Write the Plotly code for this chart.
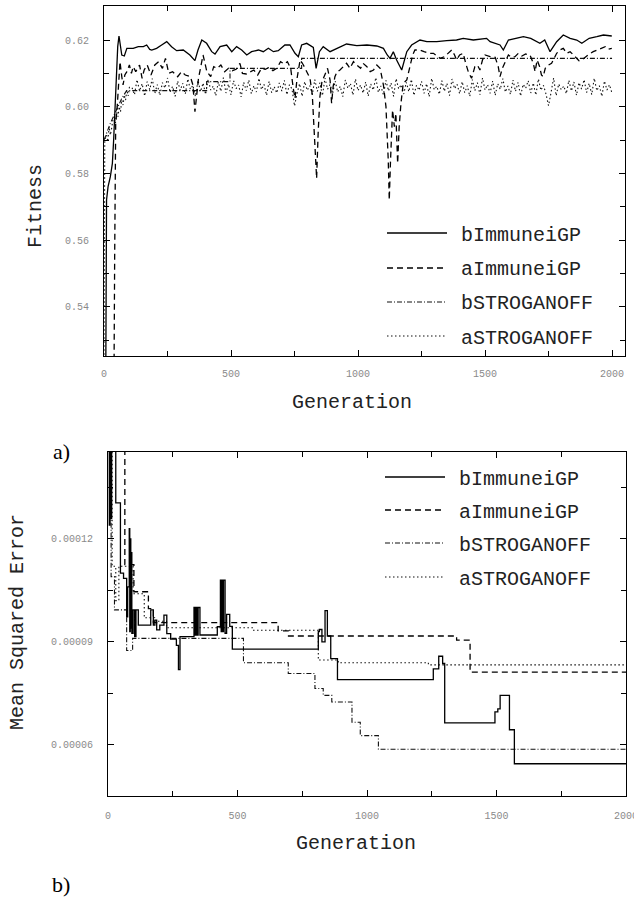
import plotly.graph_objects as go

W, H = 634, 906

# ---------------- Panel a) : Fitness vs Generation ----------------
fit_bimmune = [
    (0, 0.500), (7, 0.520), (10, 0.572), (16, 0.576), (25, 0.579), (33, 0.583), (38, 0.590),
    (44, 0.600), (50, 0.612), (54, 0.618), (59, 0.6212), (64, 0.6185), (70, 0.6155), (80, 0.6152),
    (90, 0.6175), (96, 0.6175), (115, 0.6175), (135, 0.6180), (155, 0.6180), (168, 0.6185),
    (180, 0.6172), (188, 0.6170), (207, 0.6175), (227, 0.6185), (247, 0.6195), (266, 0.6180),
    (286, 0.6168), (312, 0.6170), (338, 0.6155), (358, 0.6138), (370, 0.6170), (385, 0.6200),
    (404, 0.6190), (424, 0.6165), (437, 0.6158), (457, 0.6180), (483, 0.6185), (503, 0.6165),
    (522, 0.6180), (542, 0.6170), (562, 0.6155), (581, 0.6165), (608, 0.6170), (627, 0.6165),
    (647, 0.6175), (667, 0.6165), (686, 0.6168), (712, 0.6185), (732, 0.6185), (752, 0.6160),
    (765, 0.6150), (778, 0.6185), (798, 0.6190), (824, 0.6178), (835, 0.6115), (848, 0.6165),
    (863, 0.6180), (890, 0.6165), (916, 0.6175), (955, 0.6188), (995, 0.6183), (1035, 0.6185),
    (1074, 0.6182), (1100, 0.6175), (1115, 0.6155), (1126, 0.6145), (1139, 0.6165),
    (1152, 0.6140), (1172, 0.6110), (1192, 0.6165), (1211, 0.6185), (1244, 0.6200),
    (1271, 0.6195), (1310, 0.6195), (1349, 0.6198), (1388, 0.6200), (1414, 0.6205),
    (1454, 0.6200), (1506, 0.6205), (1520, 0.6195), (1559, 0.6185), (1572, 0.6170),
    (1592, 0.6200), (1625, 0.6205), (1651, 0.6210), (1680, 0.6205), (1716, 0.6190),
    (1735, 0.6200), (1756, 0.6165), (1782, 0.6195), (1808, 0.6215), (1835, 0.6205),
    (1861, 0.6200), (1881, 0.6190), (1910, 0.6205), (1940, 0.6210), (1966, 0.6215), (1999, 0.6212),
]

fit_aimmune = [
    (0, 0.500), (38, 0.500), (42, 0.555), (46, 0.595), (52, 0.600), (58, 0.610), (63, 0.6135),
    (70, 0.609), (75, 0.6065), (82, 0.6095), (90, 0.6105), (100, 0.6125), (108, 0.6100),
    (115, 0.612), (125, 0.6105), (140, 0.6125), (150, 0.6085), (158, 0.611), (170, 0.6125),
    (185, 0.6095), (200, 0.6125), (215, 0.6135), (230, 0.6115), (242, 0.6145), (255, 0.610),
    (270, 0.6105), (290, 0.609), (305, 0.6105), (320, 0.6095), (340, 0.609), (350, 0.6065),
    (358, 0.5985), (365, 0.6045), (372, 0.6085), (390, 0.6155), (405, 0.6105), (420, 0.609),
    (432, 0.612), (445, 0.6115), (460, 0.6125), (475, 0.6105), (490, 0.6115), (505, 0.6108),
    (520, 0.6112), (535, 0.613), (545, 0.610), (560, 0.6098), (575, 0.6105), (590, 0.611),
    (605, 0.6095), (620, 0.6115), (635, 0.6112), (650, 0.6118), (665, 0.6108), (680, 0.6115),
    (695, 0.6135), (710, 0.6128), (722, 0.6135), (735, 0.6115), (745, 0.6055), (752, 0.6025),
    (760, 0.6085), (772, 0.614), (785, 0.6125), (798, 0.6105), (811, 0.6085), (820, 0.6035),
    (828, 0.592), (837, 0.5785), (843, 0.592), (850, 0.603), (858, 0.6075), (870, 0.610),
    (880, 0.6115), (890, 0.6080), (896, 0.601), (902, 0.6060), (909, 0.609), (918, 0.6105),
    (929, 0.611), (942, 0.6120), (955, 0.613), (968, 0.6115), (982, 0.6135), (995, 0.6125),
    (1010, 0.6115), (1020, 0.613), (1035, 0.612), (1048, 0.6105), (1061, 0.611), (1074, 0.6125),
    (1087, 0.6115), (1100, 0.6065), (1110, 0.600), (1119, 0.584), (1123, 0.572), (1128, 0.584),
    (1136, 0.599), (1143, 0.594), (1149, 0.598), (1156, 0.583), (1162, 0.594), (1169, 0.601),
    (1178, 0.607), (1192, 0.608), (1205, 0.612), (1215, 0.6155), (1224, 0.617), (1244, 0.617),
    (1260, 0.6165), (1280, 0.6160), (1297, 0.616), (1310, 0.6152), (1323, 0.6145), (1340, 0.6150),
    (1355, 0.6160), (1369, 0.617), (1380, 0.6155), (1388, 0.614), (1400, 0.6155), (1414, 0.616),
    (1424, 0.6130), (1434, 0.6105), (1447, 0.6085), (1455, 0.6110), (1460, 0.612), (1470, 0.6125),
    (1480, 0.611), (1490, 0.6140), (1500, 0.6155), (1520, 0.615), (1540, 0.6148), (1552, 0.6120),
    (1559, 0.609), (1568, 0.6115), (1580, 0.6135), (1592, 0.6155), (1605, 0.6148), (1618, 0.6150),
    (1631, 0.616), (1645, 0.6152), (1660, 0.6158), (1677, 0.6155), (1690, 0.6130), (1697, 0.6105),
    (1705, 0.6140), (1715, 0.6120), (1722, 0.6095), (1729, 0.609), (1737, 0.6115), (1750, 0.6125),
    (1762, 0.613), (1782, 0.616), (1795, 0.6170), (1808, 0.6175), (1822, 0.6160), (1835, 0.6165),
    (1848, 0.6155), (1860, 0.6145), (1870, 0.6138), (1881, 0.614), (1895, 0.6150), (1910, 0.6158),
    (1926, 0.6165), (1940, 0.6170), (1953, 0.6175), (1965, 0.6178), (1973, 0.618), (1985, 0.6172),
    (1999, 0.6175),
]

fit_bstrog = [
    (0, 0.590), (12, 0.5925), (25, 0.595), (40, 0.5975), (55, 0.600), (70, 0.6025), (89, 0.6048),
    (404, 0.6048), (404, 0.6075), (496, 0.6075), (496, 0.6115), (778, 0.6115), (778, 0.6145),
    (2000, 0.6145),
]

fit_astrog_early = [
    (0, 0.522), (3, 0.590), (10, 0.5915), (15, 0.5895), (20, 0.594), (25, 0.5915), (30, 0.5935),
    (35, 0.5960), (40, 0.597), (45, 0.5950), (50, 0.5985), (55, 0.5970), (60, 0.600), (65, 0.5985),
    (70, 0.602), (75, 0.6005), (80, 0.6035), (85, 0.6020), (90, 0.6050), (95, 0.6032), (100, 0.6058),
]
fit_astrog_gen_start = 110
fit_astrog_gen_step = 10
fit_astrog_vals = [
    0.6058, 0.6036, 0.6081, 0.6047, 0.6069, 0.6032, 0.6075, 0.6051, 0.6084, 0.6040,
    0.6066, 0.6034, 0.6072, 0.6056, 0.6086, 0.6043, 0.6061, 0.6031, 0.6077, 0.6049,
    0.6070, 0.6038, 0.6083, 0.6052, 0.6064, 0.6030, 0.6079, 0.6045, 0.6071, 0.6037,
    0.6082, 0.6050, 0.6062, 0.6033, 0.6074, 0.6046, 0.6087, 0.6041, 0.6068, 0.6035,
    0.6078, 0.6054, 0.6065, 0.6029, 0.6073, 0.6048, 0.6080, 0.6039, 0.6063, 0.6044,
    0.6085, 0.6051, 0.6067, 0.6034, 0.6076, 0.6042, 0.6060, 0.6041, 0.6071, 0.6047,
    0.6079, 0.6036, 0.6066, 0.6053, 0.6002, 0.6040, 0.6069, 0.6031, 0.6075, 0.6049,
    0.6063, 0.6037, 0.6081, 0.6046, 0.6072, 0.6033, 0.6086, 0.6052, 0.6067, 0.6039,
    0.6077, 0.6044, 0.6061, 0.6030, 0.6080, 0.6055, 0.6070, 0.6035, 0.6083, 0.6048,
    0.6065, 0.6041, 0.6074, 0.6032, 0.6068, 0.6050, 0.6087, 0.6043, 0.6062, 0.6036,
    0.6079, 0.6047, 0.6071, 0.6031, 0.6084, 0.6053, 0.6066, 0.6038, 0.6073, 0.6045,
    0.6082, 0.6034, 0.6064, 0.6049, 0.6076, 0.6040, 0.6069, 0.6030, 0.6085, 0.6051,
    0.6061, 0.6037, 0.6078, 0.6046, 0.6070, 0.6033, 0.6083, 0.6054, 0.6067, 0.6039,
    0.6075, 0.6042, 0.6063, 0.6031, 0.6081, 0.6048, 0.6072, 0.6036, 0.6086, 0.6050,
    0.6066, 0.6040, 0.6077, 0.6034, 0.6069, 0.6052, 0.6084, 0.6044, 0.6062, 0.6037,
    0.6080, 0.6046, 0.6073, 0.6032, 0.6067, 0.6055, 0.6078, 0.6041, 0.6071, 0.6035,
    0.6083, 0.6049, 0.6064, 0.6038, 0.6003, 0.6043, 0.6086, 0.6033, 0.6068, 0.6051,
    0.6062, 0.6039, 0.6079, 0.6047, 0.6074, 0.6034, 0.6072, 0.6053, 0.6081, 0.6042,
    0.6070, 0.6036, 0.6085, 0.6048, 0.6063, 0.6031, 0.6077, 0.6050, 0.6066, 0.6040,
]

fit_yticks = [0.54, 0.56, 0.58, 0.60, 0.62]
fit_ytick_labels = ["0.54", "0.56", "0.58", "0.60", "0.62"]
gen_ticks = [0, 500, 1000, 1500, 2000]
gen_tick_labels = ["0", "500", "1000", "1500", "2000"]

# ---------------- Panel b) : Mean Squared Error (x 1e-5), step change points ----------------
mse_scale = 1e-5
mse_bimmune_x1e5 = [
    (0, 15), (5, 12.4), (8, 15), (11, 12.6), (14, 15), (30, 13.05), (48, 11.0), (60, 10.85),
    (72, 9.73), (76, 10.6), (82, 12.3), (84, 9.3), (86, 12.0), (88, 9.4), (90, 11.6), (92, 9.25),
    (97, 9.93), (103, 9.15), (108, 9.93), (117, 9.49), (165, 9.93), (175, 9.49), (181, 9.63),
    (188, 9.35), (200, 9.49), (216, 9.78), (227, 9.24), (242, 9.08), (264, 8.9), (272, 8.19),
    (278, 9.15), (332, 10.0), (336, 9.2), (340, 10.0), (344, 9.2), (348, 10.0), (355, 9.2),
    (422, 9.44), (434, 10.8), (437, 9.3), (440, 10.8), (443, 9.3), (446, 10.8), (452, 9.25),
    (458, 9.8), (470, 9.45), (480, 8.79), (812, 9.3), (816, 9.36), (826, 9.0), (838, 9.91),
    (847, 9.17), (860, 8.51), (886, 7.9), (1256, 8.21), (1277, 8.58), (1292, 8.37), (1300, 6.64),
    (1494, 6.96), (1505, 7.05), (1514, 7.44), (1550, 6.44), (1569, 5.45), (2000, 5.45),
]
mse_aimmune_x1e5 = [
    (0, 15), (65, 11.25), (100, 10.46), (156, 9.97), (175, 9.56), (657, 9.32), (697, 9.17),
    (1346, 9.05), (1398, 8.12), (2000, 8.12),
]
mse_bstrog_x1e5 = [
    (0, 15), (12, 10.9), (25, 9.93), (72, 8.75), (95, 9.10), (523, 8.39), (696, 8.08),
    (799, 7.64), (831, 7.44), (864, 7.25), (942, 6.66), (974, 6.27), (1044, 5.87), (2000, 5.87),
]
mse_astrog_x1e5 = [
    (0, 15), (16, 11.2), (30, 10.2), (42, 11.2), (97, 10.4), (140, 9.7), (180, 9.6), (226, 9.41),
    (562, 9.34), (812, 8.47), (889, 8.39), (1237, 8.33), (2000, 8.33),
]
mse_yticks = [0.00006, 0.00009, 0.00012]
mse_ytick_labels = ["0.00006", "0.00009", "0.00012"]

series_names = ["bImmuneiGP", "aImmuneiGP", "bSTROGANOFF", "aSTROGANOFF"]

# ---------------- styling ----------------
styles = {
    "bImmuneiGP": dict(color="#000000", width=1.3, dash="solid"),
    "aImmuneiGP": dict(color="#000000", width=1.3, dash="6px,4px"),
    "bSTROGANOFF": dict(color="#111111", width=1.1, dash="5px,2px,1px,2px"),
    "aSTROGANOFF": dict(color="#111111", width=1.1, dash="1.5px,2.5px"),
}
MONO = "Liberation Mono"
tick_font = dict(family=MONO, size=10, color="#8a8a8a")


def split(pairs):
    return [p[0] for p in pairs], [p[1] for p in pairs]


fig = go.Figure()

# Panel a traces
astrog_x = [g for g, _ in fit_astrog_early] + [fit_astrog_gen_start + fit_astrog_gen_step * i for i in range(len(fit_astrog_vals))]
astrog_y = [v for _, v in fit_astrog_early] + fit_astrog_vals
panel_a = {
    "bImmuneiGP": split(fit_bimmune),
    "aImmuneiGP": split(fit_aimmune),
    "bSTROGANOFF": split(fit_bstrog),
    "aSTROGANOFF": (astrog_x, astrog_y),
}
for name in ["aSTROGANOFF", "bSTROGANOFF", "aImmuneiGP", "bImmuneiGP"]:
    xs, ys = panel_a[name]
    fig.add_trace(go.Scatter(x=xs, y=ys, mode="lines", name=name, line=styles[name],
                             xaxis="x", yaxis="y", showlegend=False))

# Panel b traces
panel_b = {
    "bImmuneiGP": mse_bimmune_x1e5,
    "aImmuneiGP": mse_aimmune_x1e5,
    "bSTROGANOFF": mse_bstrog_x1e5,
    "aSTROGANOFF": mse_astrog_x1e5,
}
for name in ["aSTROGANOFF", "bSTROGANOFF", "aImmuneiGP", "bImmuneiGP"]:
    xs, ys = split(panel_b[name])
    fig.add_trace(go.Scatter(x=xs, y=[v * mse_scale for v in ys], mode="lines", name=name,
                             line=dict(**styles[name], shape="hv"),
                             xaxis="x2", yaxis="y2", showlegend=False))


def px2x(p):
    return p / W


def px2y(p):
    return 1 - p / H


axis_common = dict(
    showline=True, linecolor="#000000", linewidth=1.2, mirror="ticks",
    ticks="inside", ticklen=6, tickcolor="#000000", tickwidth=1,
    showgrid=False, zeroline=False, tickfont=tick_font, automargin=False,
    ticklabeloverflow="allow",
)

fig.update_layout(
    width=W, height=H, margin=dict(l=0, r=0, t=0, b=0, autoexpand=False),
    paper_bgcolor="white", plot_bgcolor="white",
    xaxis=dict(**axis_common, domain=[px2x(104), px2x(625)], range=[0, 2051], anchor="y",
               tickvals=gen_ticks, ticktext=gen_tick_labels, ticklabelstandoff=8,
               minor=dict(ticks="inside", ticklen=5, dtick=250, tick0=0, tickcolor="#000000")),
    yaxis=dict(**axis_common, domain=[px2y(356), px2y(6)], range=[0.5252, 0.6302], anchor="x",
               tickvals=fit_yticks, ticktext=fit_ytick_labels, ticklabelstandoff=12,
               minor=dict(ticks="inside", ticklen=5, dtick=0.01, tick0=0.5, tickcolor="#000000")),
    xaxis2=dict(**axis_common, domain=[px2x(108), px2x(626)], range=[0, 2000], anchor="y2",
                tickvals=gen_ticks, ticktext=gen_tick_labels, ticklabelstandoff=10,
                minor=dict(ticks="inside", ticklen=5, dtick=250, tick0=0, tickcolor="#000000")),
    yaxis2=dict(**axis_common, domain=[px2y(796), px2y(452)], range=[0.0000451, 0.0001453], anchor="x2",
                tickvals=mse_yticks, ticktext=mse_ytick_labels, ticklabelstandoff=12,
                minor=dict(ticks="inside", ticklen=5, dtick=0.000015, tick0=0.00006, tickcolor="#000000")),
)

annotations = []
shapes = []
title_font = dict(family=MONO, size=20, color="#222222")

annotations += [
    dict(text="Fitness", x=px2x(35), y=px2y(206), xref="paper", yref="paper", showarrow=False,
         textangle=-90, font=title_font, xanchor="center", yanchor="middle"),
    dict(text="Generation", x=px2x(352), y=px2y(403), xref="paper", yref="paper", showarrow=False,
         font=title_font, xanchor="center", yanchor="middle"),
    dict(text="Mean Squared Error", x=px2x(17), y=px2y(622), xref="paper", yref="paper", showarrow=False,
         textangle=-90, font=title_font, xanchor="center", yanchor="middle"),
    dict(text="Generation", x=px2x(356), y=px2y(843), xref="paper", yref="paper", showarrow=False,
         font=title_font, xanchor="center", yanchor="middle"),
    dict(text="a)", x=px2x(61), y=px2y(451), xref="paper", yref="paper", showarrow=False,
         font=dict(family="Liberation Serif", size=22, color="#000000"), xanchor="center", yanchor="middle"),
    dict(text="b)", x=px2x(61), y=px2y(884), xref="paper", yref="paper", showarrow=False,
         font=dict(family="Liberation Serif", size=22, color="#000000"), xanchor="center", yanchor="middle"),
]

# Legends (drawn as key lines + labels inside each panel)
legend_a_rows = [233, 268, 302, 336]
legend_b_rows = [477, 510, 543, 577]
for rows, x0, x1, xt in [(legend_a_rows, 387, 447, 459), (legend_b_rows, 385, 445, 457)]:
    for name, ry in zip(series_names, rows):
        st = styles[name]
        shapes.append(dict(type="line", xref="paper", yref="paper",
                           x0=px2x(x0), x1=px2x(x1), y0=px2y(ry), y1=px2y(ry),
                           line=dict(color=st["color"], width=st["width"], dash=st["dash"])))
        annotations.append(dict(text=name, x=px2x(xt), y=px2y(ry + 2), xref="paper", yref="paper",
                                showarrow=False, xanchor="left", yanchor="middle",
                                font=dict(family=MONO, size=20, color="#222222")))

fig.update_layout(annotations=annotations, shapes=shapes)

# remove the default page margin so the figure sits at the top-left corner of the window
fig.write_html("out.html", config={"displayModeBar": False},
               post_script="document.body.style.margin='0';document.body.style.overflow='hidden';")
